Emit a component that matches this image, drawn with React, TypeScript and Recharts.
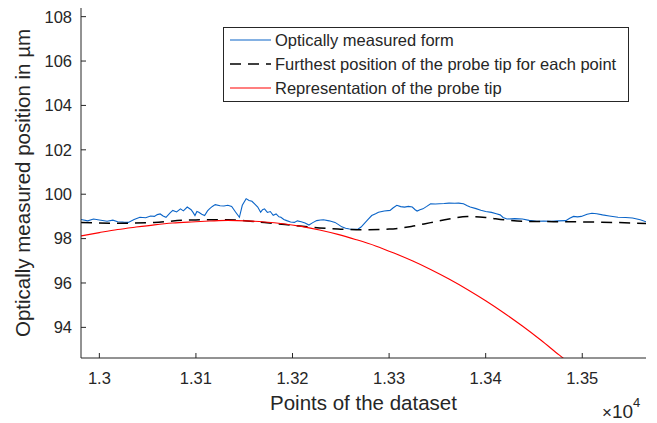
import { LineChart, Line, XAxis, YAxis, Label, Legend } from 'recharts';

// x in dataset points (axis shows them scaled by 10^4), y in µm
const blueX = [
  12981, 12988, 12994, 13000, 13008, 13014, 13019, 13025, 13030, 13036, 13042, 13048, 13053, 13057, 13060,
  13063, 13066, 13069, 13073, 13076, 13080, 13084, 13087, 13091, 13095, 13097, 13099, 13101, 13103, 13106,
  13109, 13112, 13114, 13117, 13120, 13125, 13129, 13133, 13137, 13141, 13145, 13148, 13152, 13155, 13158,
  13161, 13164, 13167, 13169, 13171, 13174, 13177, 13180, 13183, 13186, 13188, 13191, 13194, 13198, 13202,
  13205, 13209, 13213, 13217, 13221, 13225, 13229, 13232, 13238, 13244, 13248, 13251, 13255, 13259, 13264,
  13268, 13271, 13274, 13278, 13282, 13286, 13289, 13295, 13301, 13304, 13308, 13312, 13316, 13320, 13324,
  13327, 13329, 13332, 13335, 13339, 13343, 13348, 13352, 13357, 13362, 13368, 13372, 13377, 13381, 13384,
  13390, 13395, 13400, 13406, 13411, 13415, 13418, 13422, 13430, 13438, 13445, 13453, 13460, 13468, 13475,
  13483, 13487, 13491, 13495, 13499, 13505, 13510, 13515, 13521, 13528, 13537, 13545, 13552, 13560, 13566,
];
const blueY = [
  98.86, 98.8, 98.88, 98.84, 98.78, 98.83, 98.76, 98.74, 98.73, 98.86, 98.96, 98.94, 99.02, 99.0, 99.08,
  99.11, 99.02, 98.96, 99.15, 99.27, 99.2, 99.34, 99.25, 99.42, 99.3, 99.18, 99.04, 99.22, 99.19, 99.1,
  99.04, 99.25, 99.34, 99.45, 99.53, 99.48, 99.47, 99.5, 99.45, 99.2, 98.96, 99.5, 99.8, 99.72, 99.68,
  99.55, 99.42, 99.19, 99.3, 99.34, 99.18, 99.22, 99.05, 99.11, 98.98, 98.96, 98.86, 98.81, 98.75, 98.73,
  98.8, 98.76, 98.7, 98.61, 98.72, 98.81, 98.84, 98.85, 98.8, 98.73, 98.62, 98.53, 98.47, 98.43, 98.42,
  98.43, 98.52, 98.66, 98.85, 99.04, 99.12, 99.19, 99.24, 99.27, 99.38, 99.5, 99.44, 99.42, 99.45, 99.42,
  99.3, 99.24, 99.3, 99.34, 99.45, 99.57, 99.56, 99.57, 99.58, 99.6, 99.59, 99.6, 99.57, 99.48, 99.42,
  99.35, 99.28, 99.22, 99.18, 99.12, 99.07, 98.95, 98.88, 98.9, 98.88, 98.82, 98.78, 98.79, 98.78, 98.8,
  98.81, 98.92, 99.0, 98.98, 99.0, 99.1, 99.14, 99.12, 99.07, 99.02, 98.96, 98.95, 98.93, 98.85, 98.76,
];

const tipX = [
  12981, 13019, 13057, 13095, 13133, 13171, 13200, 13228, 13247, 13266, 13300, 13323, 13343, 13362, 13381,
  13400, 13419, 13438, 13480, 13520, 13566,
];
const tipY = [
  98.73, 98.69, 98.73, 98.84, 98.85, 98.72, 98.6, 98.48, 98.43, 98.4, 98.43, 98.55, 98.72, 98.88, 99.0,
  98.95, 98.85, 98.78, 98.76, 98.74, 98.68,
];

const probeX = [
  12981, 13000, 13019, 13038, 13057, 13076, 13095, 13114, 13133, 13152, 13171, 13190, 13209, 13228, 13247,
  13266, 13286, 13305, 13324, 13343, 13362, 13381, 13400, 13419, 13438, 13457, 13476, 13485,
];
const probeY = [
  98.12, 98.27, 98.41, 98.52, 98.62, 98.7, 98.75, 98.79, 98.82, 98.8, 98.75, 98.67, 98.55, 98.39, 98.19,
  97.95, 97.67, 97.35, 97.0, 96.61, 96.18, 95.71, 95.2, 94.65, 94.06, 93.43, 92.76, 92.45,
];

const xTicks = [13000, 13100, 13200, 13300, 13400, 13500];
const yTicks = [94, 96, 98, 100, 102, 104, 106, 108];

const zip = (xs: number[], ys: number[]) => xs.map((x, i) => ({ x, y: ys[i] }));
const blueData = zip(blueX, blueY);
const tipData = zip(tipX, tipY);
const probeData = zip(probeX, probeY);

const FONT = '"Liberation Sans", Arial, Helvetica, sans-serif';
const INK = '#262626';
const BLUE = '#0a64c8';
const RED = '#ff0000';

const legendItems = [
  { label: 'Optically measured form', color: BLUE, dash: undefined },
  { label: 'Furthest position of the probe tip for each point', color: '#000', dash: '11 7' },
  { label: 'Representation of the probe tip', color: RED, dash: undefined },
];

function LegendBox() {
  return (
    <svg width={407} height={76} style={{ display: 'block' }}>
      <rect x={0.5} y={0.5} width={405} height={74} fill="#fff" stroke={INK} strokeWidth={1} />
      {legendItems.map((it, i) => {
        const cy = 13 + i * 24;
        return (
          <g key={it.label}>
            <line x1={7} x2={48} y1={cy} y2={cy} stroke={it.color} strokeWidth={it.dash ? 1.5 : 1.2} strokeDasharray={it.dash} />
            <text x={52} y={cy + 6} fontSize={16.5} fontFamily={FONT} fill={INK}>
              {it.label}
            </text>
          </g>
        );
      })}
    </svg>
  );
}

function Exponent(props: any) {
  const vb = props.viewBox || { x: 81, width: 565, y: 358 };
  const x = vb.x + vb.width - 44;
  return (
    <text x={x} y={418} fontFamily={FONT} fill={INK} fontSize={19}>
      <tspan fontSize={17}>×</tspan>
      <tspan>10</tspan>
      <tspan fontSize={13} dy={-11}>4</tspan>
    </text>
  );
}

export default function App() {
  return (
    <div style={{ position: 'relative', width: 657, height: 423, background: '#fff' }}>
      <style>{`body{margin:0}`}</style>
      <LineChart width={657} height={423} margin={{ top: 8, right: 11, bottom: 0, left: 0 }}>
        <XAxis
          xAxisId="b"
          type="number"
          dataKey="x"
          domain={[12981, 13566]}
          ticks={xTicks}
          allowDataOverflow
          height={65}
          tickSize={-5}
          tickMargin={19}
          tickFormatter={(v: number) => String(Number((v / 10000).toFixed(2)))}
          tick={{ fill: INK, fontSize: 16.5, fontFamily: FONT }}
          axisLine={{ stroke: INK }}
          tickLine={{ stroke: INK }}
        >
          <Label value="Points of the dataset" position="insideBottom" offset={13} fill={INK} fontSize={20.5} fontFamily={FONT} />
          <Label content={<Exponent />} />
        </XAxis>
        <XAxis
          xAxisId="t"
          orientation="top"
          type="number"
          domain={[12981, 13566]}
          ticks={xTicks}
          height={0}
          tickSize={-5}
          tick={false}
          axisLine={{ stroke: INK }}
          tickLine={{ stroke: INK }}
        />
        <YAxis
          yAxisId="l"
          type="number"
          domain={[92.62, 108.39]}
          ticks={yTicks}
          allowDataOverflow
          width={81}
          tickSize={-5}
          tickMargin={14}
          tick={{ fill: INK, fontSize: 16.5, fontFamily: FONT }}
          axisLine={{ stroke: INK }}
          tickLine={{ stroke: INK }}
        >
          <Label
            value="Optically measured position in µm"
            angle={-90}
            position="center"
            dx={-18}
            fill={INK}
            fontSize={20.5}
            fontFamily={FONT}
          />
        </YAxis>
        <YAxis
          yAxisId="r"
          orientation="right"
          type="number"
          domain={[92.62, 108.39]}
          ticks={yTicks}
          width={0}
          tickSize={-5}
          tick={false}
          axisLine={{ stroke: INK }}
          tickLine={{ stroke: INK }}
        />
        <Line
          xAxisId="b"
          yAxisId="l"
          data={blueData}
          dataKey="y"
          type="linear"
          stroke={BLUE}
          strokeWidth={1.1}
          dot={false}
          isAnimationActive={false}
        />
        <Line
          xAxisId="b"
          yAxisId="l"
          data={tipData}
          dataKey="y"
          type="monotone"
          stroke="#000"
          strokeWidth={1.5}
          strokeDasharray="11 7"
          dot={false}
          isAnimationActive={false}
        />
        <Line
          xAxisId="b"
          yAxisId="l"
          data={probeData}
          dataKey="y"
          type="monotone"
          stroke={RED}
          strokeWidth={1.1}
          dot={false}
          isAnimationActive={false}
        />
        <Legend
          verticalAlign="middle"
          align="center"
          layout="horizontal"
          content={() => <LegendBox />}
          wrapperStyle={{ left: 223, top: 27, width: 407, height: 76 }}
        />
      </LineChart>
    </div>
  );
}
